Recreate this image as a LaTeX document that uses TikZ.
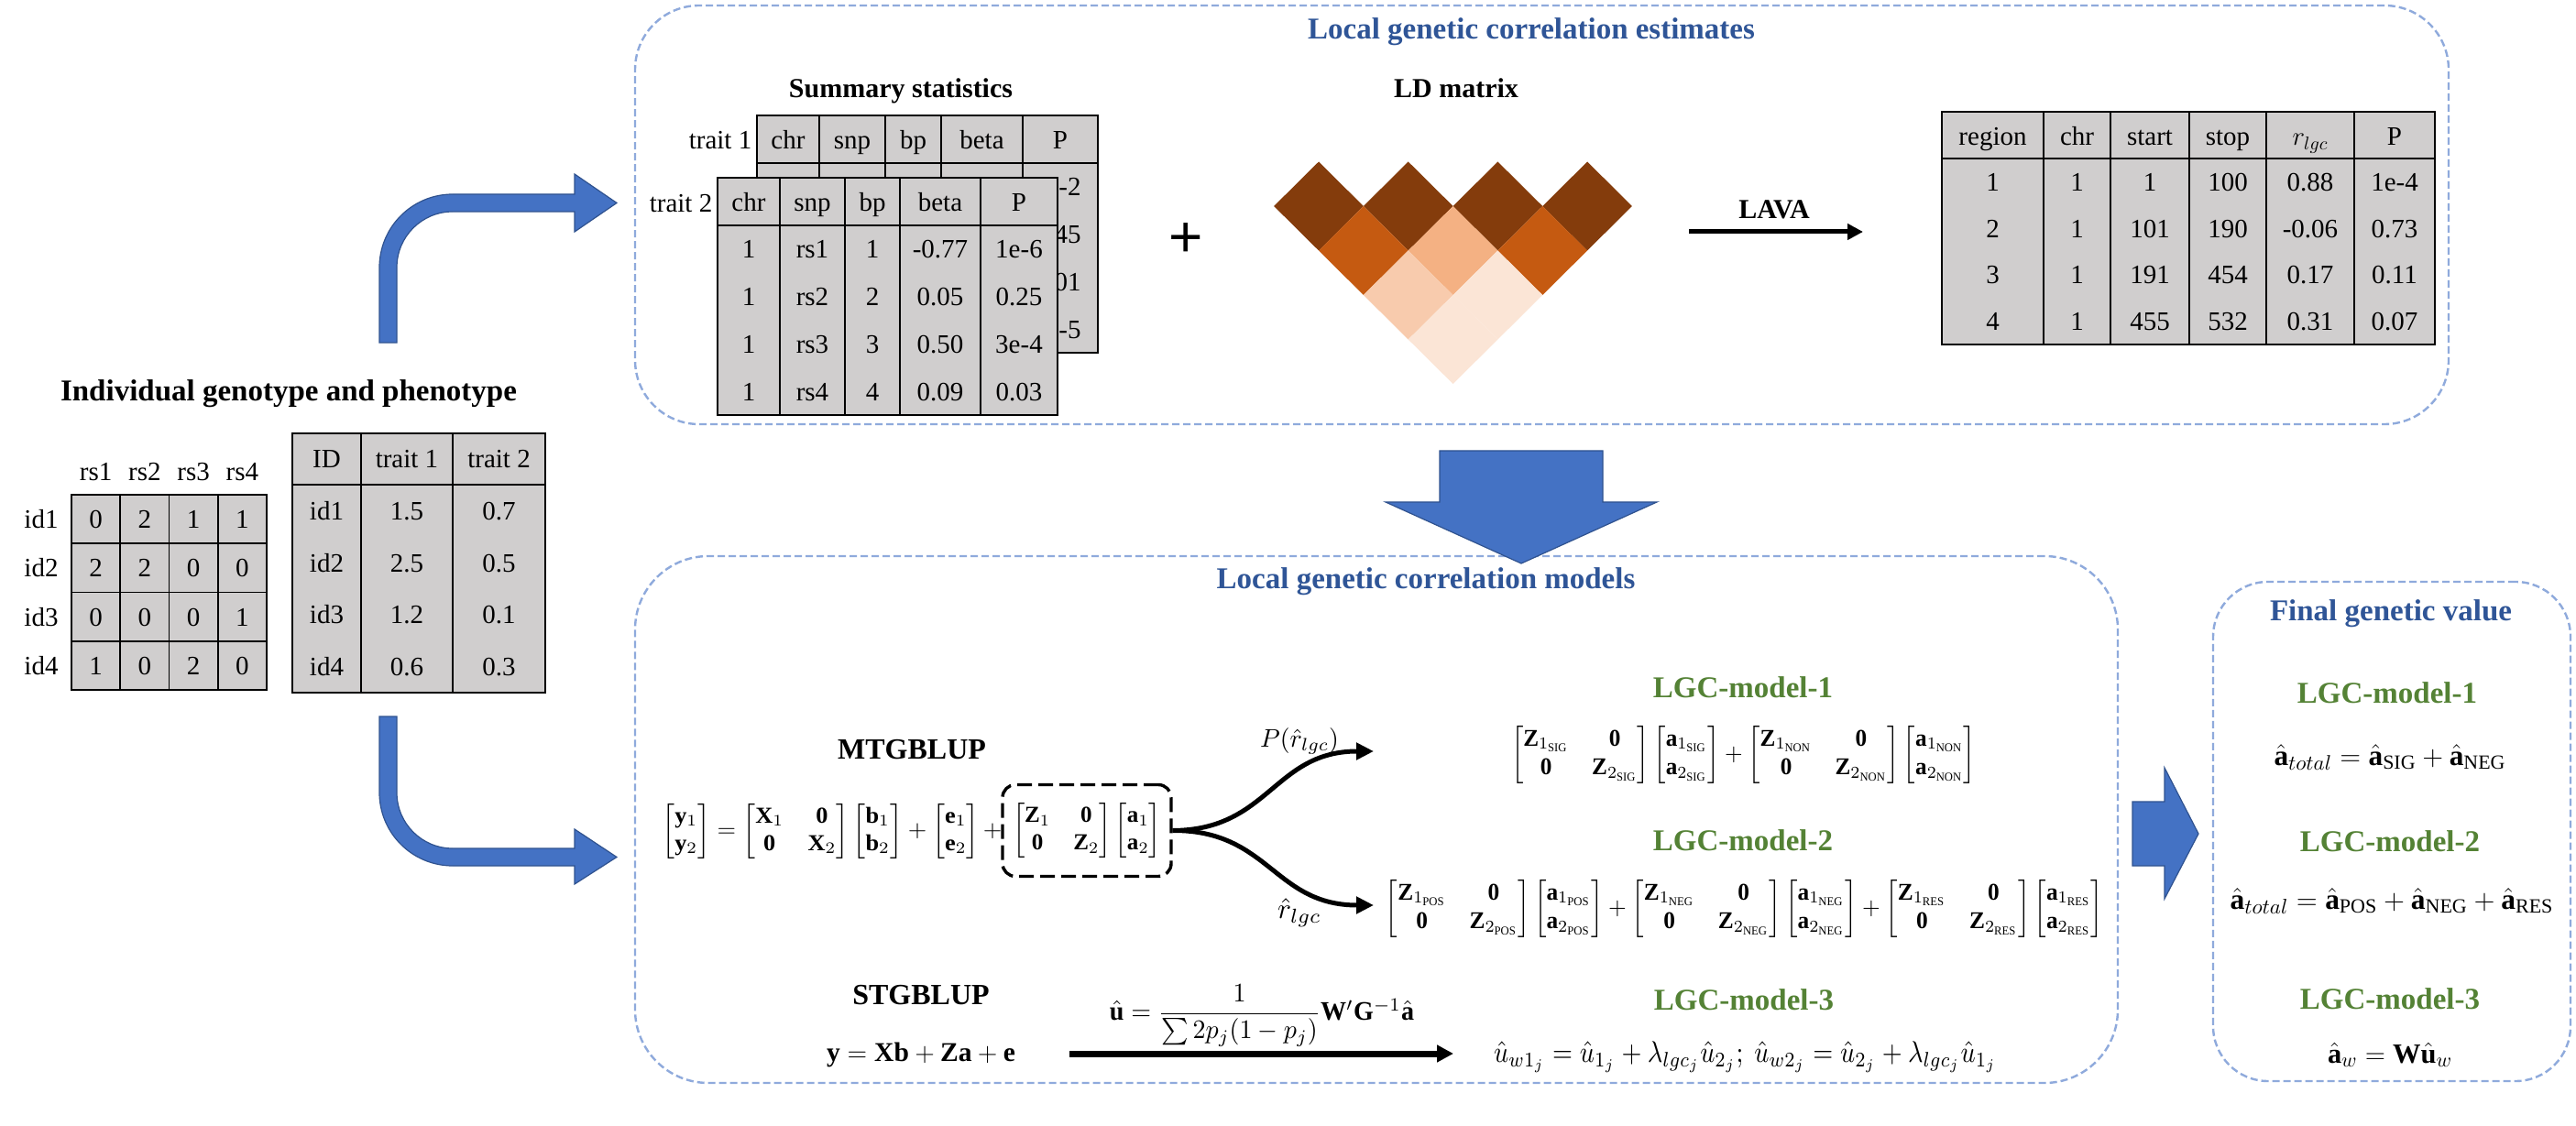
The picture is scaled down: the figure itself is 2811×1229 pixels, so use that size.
\documentclass[tikz,border=0pt]{standalone}
\usepackage{amsmath}
\usepackage{graphicx}
\usepackage{fontspec}
\setmainfont{Liberation Serif}
\newfontfamily\plusfont{Liberation Sans}
\usetikzlibrary{arrows.meta}
\definecolor{boxblue}{HTML}{8FAADC}
\definecolor{titleblue}{HTML}{2F5597}
\definecolor{arrowblue}{HTML}{4472C4}
\definecolor{arrowedge}{HTML}{2F528F}
\definecolor{cellgray}{HTML}{D0CECE}
\definecolor{lgcgreen}{HTML}{548235}
\definecolor{ldA}{HTML}{843C0C}
\definecolor{ldB}{HTML}{C55A11}
\definecolor{ldC}{HTML}{F4B183}
\definecolor{ldD}{HTML}{F8CBAD}
\definecolor{ldE}{HTML}{FBE5D6}
\newcommand\Bf[1]{\mathbf{#1}}
\newcommand\zablock[1]{\begin{bmatrix}\Bf{Z}_{1_{\mathrm{#1}}} & \Bf{0}\\ \Bf{0} & \Bf{Z}_{2_{\mathrm{#1}}}\end{bmatrix}\begin{bmatrix}\Bf{a}_{1_{\mathrm{#1}}}\\ \Bf{a}_{2_{\mathrm{#1}}}\end{bmatrix}}
\begin{document}
\begin{tikzpicture}[x=0.5pt,y=-0.5pt,
  dbox/.style={draw=boxblue, line width=1.2pt, dash pattern=on 4pt off 2pt, inner sep=0pt},
  ttl/.style={font=\fontsize{16.5}{20}\selectfont\bfseries, text=titleblue, anchor=base, inner sep=0pt},
  lgct/.style={font=\fontsize{16.5}{20}\selectfont\bfseries, text=lgcgreen, anchor=base, inner sep=0pt},
  subt/.style={font=\fontsize{15}{18}\selectfont\bfseries, anchor=base, inner sep=0pt},
  cell/.style={font=\fontsize{14.5}{17}\selectfont, inner sep=0pt, text height=10pt, text depth=0pt},
  tline/.style={line width=0.6pt},
  tout/.style={line width=1pt},
  barrow/.style={fill=arrowblue, draw=arrowedge, line width=0.6pt},
  fml/.style={inner sep=0pt},
  branch/.style={line width=2.5pt, -{Triangle[length=9.5pt,width=9pt]}},
  straight/.style={line width=2.5pt, -{Triangle[length=8.5pt,width=8.5pt]}},
]
\useasboundingbox (0,0) rectangle (2811,1229);
\fill[white] (0,0) rectangle (2811,1229);

% ---------- dashed containers ----------
\node[dbox, rounded corners=35pt, minimum width=989.5pt, minimum height=228.5pt] (estbox) at (1682.5,234.5) {};
\node[dbox, rounded corners=40pt, minimum width=809pt, minimum height=287.5pt] (modbox) at (1502,894.5) {};
\node[dbox, rounded corners=30pt, minimum width=195pt, minimum height=272.5pt] (finbox) at (2610,907.5) {};

\node[ttl] (t1) at (1671,43) {Local genetic correlation estimates};
\node[ttl] (t2) at (1556,642) {Local genetic correlation models};
\node[ttl] (t3) at (2609,677) {Final genetic value};

% ---------- left: individual data ----------
\node[ttl, text=black] (t0) at (315,438) {Individual genotype and phenotype};

\foreach \lab [count=\c] in {rs1,rs2,rs3,rs4}
  \node[cell] (rs-\c) at ({78+53.25*(\c-0.5)},515) {\lab};
\foreach \lab [count=\r] in {id1,id2,id3,id4}
  \node[cell] (id-\r) at (45,{540+53.25*(\r-0.5)}) {\lab};
\fill[cellgray] (78,540) rectangle (291,753);
\foreach \i in {1,2,3} {
  \draw[line width=0.9pt] ({78+53.25*\i},540) -- ({78+53.25*\i},753);
  \draw[line width=0.9pt] (78,{540+53.25*\i}) -- (291,{540+53.25*\i});
}
\draw[line width=1.1pt] (78,540) rectangle (291,753);
\foreach \row [count=\r] in {{0,2,1,1},{2,2,0,0},{0,0,0,1},{1,0,2,0}} {
  \foreach \v [count=\c] in \row {
    \node[cell] (geno-\r-\c) at ({78+53.25*(\c-0.5)},{540+53.25*(\r-0.5)}) {\v};
  }
}

\fill[cellgray] (319,473) rectangle (595,756);
\draw[tline] (394,473) -- (394,756);
\draw[tline] (494,473) -- (494,756);
\draw[tout] (319,529) -- (595,529);
\draw[tout] (319,473) rectangle (595,756);
\node[cell] (ph-h1) at (356.5,501) {ID};
\node[cell] (ph-h2) at (444,501) {trait 1};
\node[cell] (ph-h3) at (544.5,501) {trait 2};
\foreach \va/\vb/\vc [count=\r] in {id1/1.5/0.7, id2/2.5/0.5, id3/1.2/0.1, id4/0.6/0.3} {
  \node[cell] (ph-\r-1) at (356.5,{529+56.75*(\r-0.5)}) {\va};
  \node[cell] (ph-\r-2) at (444,{529+56.75*(\r-0.5)}) {\vb};
  \node[cell] (ph-\r-3) at (544.5,{529+56.75*(\r-0.5)}) {\vc};
}

% ---------- blue bent arrows ----------
\fill[barrow] (414,374) -- (414,292) .. controls (414,247.8) and (449.8,212) .. (494,212)
  -- (627,212) -- (627,190) -- (673,221.5) -- (627,253) -- (627,231) -- (494,231)
  .. controls (460.3,231) and (433,258.3) .. (433,292) -- (433,374) -- cycle;
\fill[barrow] (414,782) -- (414,865) .. controls (414,909.2) and (449.8,945) .. (494,945)
  -- (627,945) -- (627,965) -- (673,935.5) -- (627,905) -- (627,926) -- (494,926)
  .. controls (460.3,926) and (433,898.7) .. (433,865) -- (433,782) -- cycle;

% ---------- summary statistics ----------
\node[subt] (tss) at (983,107) {Summary statistics};
\node[cell] (tr1) at (786,153) {trait 1};
\node[cell] (tr2) at (743,222) {trait 2};
% back table (trait 1)
\fill[cellgray] (826,126) rectangle (1198,385);
\foreach \xx in {894,966,1027,1116} \draw[tline] (\xx,126) -- (\xx,385);
\draw[tout] (826,178) -- (1198,178);
\draw[tout] (826,126) rectangle (1198,385);
\foreach \lab/\xx [count=\c] in {chr/860,snp/930,bp/996.5,beta/1071.5,P/1157}
  \node[cell] (b-h\c) at (\xx,153) {\lab};
\foreach \lab [count=\r] in {-2,45,01,-5}
  \node[cell, anchor=east] (b-p\r) at (1180,{178+51.75*(\r-0.5)}) {\lab};
% front table (trait 2)
\fill[cellgray] (783,194) rectangle (1154,453);
\foreach \xx in {851,922,982,1070} \draw[tline] (\xx,194) -- (\xx,453);
\draw[tout] (783,246) -- (1154,246);
\draw[tout] (783,194) rectangle (1154,453);
\foreach \lab/\xx [count=\c] in {chr/817,snp/886.5,bp/952,beta/1026,P/1112}
  \node[cell] (f-h\c) at (\xx,221) {\lab};
\foreach \va/\vb/\vc/\vd/\ve [count=\r] in {1/rs1/1/-0.77/1e-6, 1/rs2/2/0.05/0.25, 1/rs3/3/0.50/3e-4, 1/rs4/4/0.09/0.03} {
  \node[cell] (f-\r-1) at (817,{246+51.75*(\r-0.5)}) {\va};
  \node[cell] (f-\r-2) at (886.5,{246+51.75*(\r-0.5)}) {\vb};
  \node[cell] (f-\r-3) at (952,{246+51.75*(\r-0.5)}) {\vc};
  \node[cell] (f-\r-4) at (1026,{246+51.75*(\r-0.5)}) {\vd};
  \node[cell] (f-\r-5) at (1112,{246+51.75*(\r-0.5)}) {\ve};
}

\node[font=\plusfont\fontsize{32}{32}\selectfont, inner sep=0pt] (plus) at (1294,262) {+};

% ---------- LD matrix ----------
\node[subt] (tld) at (1589,107) {LD matrix};
\foreach \cx/\cy/\col [count=\k] in {1439/225/ldA, 1536.7/225/ldA, 1634.4/225/ldA, 1732.1/225/ldA,
    1487.85/273.5/ldB, 1585.55/273.5/ldC, 1683.25/273.5/ldB,
    1536.7/322/ldD, 1634.4/322/ldE, 1585.55/370.5/ldE}
  \fill[\col] ({\cx},{\cy-48.5}) -- ({\cx+48.85},{\cy}) -- ({\cx},{\cy+48.5}) -- ({\cx-48.85},{\cy}) -- cycle;

% ---------- LAVA ----------
\node[subt] (tlava) at (1936,239) {LAVA};
\coordinate (lavaS) at (1843,253);
\coordinate (lavaE) at (2033,253);
\draw[straight] (lavaS) -- (lavaE);

\fill[cellgray] (2119,122) rectangle (2657,376);
\foreach \xx in {2230,2303,2389,2473,2569} \draw[tline] (\xx,122) -- (\xx,376);
\draw[tout] (2119,173) -- (2657,173);
\draw[tout] (2119,122) rectangle (2657,376);
\node[cell] (r-h1) at (2174.5,149) {region};
\node[cell] (r-h2) at (2266.5,149) {chr};
\node[cell] (r-h3) at (2346,149) {start};
\node[cell] (r-h4) at (2431,149) {stop};
\node[cell] (r-h5) at (2521,149) {$r_{lgc}$};
\node[cell] (r-h6) at (2613,149) {P};
\foreach \va/\vb/\vc/\vd/\ve/\vf [count=\r] in {1/1/1/100/0.88/1e-4, 2/1/101/190/-0.06/0.73, 3/1/191/454/0.17/0.11, 4/1/455/532/0.31/0.07} {
  \node[cell] (r-\r-1) at (2174.5,{173+50.75*(\r-0.5)}) {\va};
  \node[cell] (r-\r-2) at (2266.5,{173+50.75*(\r-0.5)}) {\vb};
  \node[cell] (r-\r-3) at (2346,{173+50.75*(\r-0.5)}) {\vc};
  \node[cell] (r-\r-4) at (2431,{173+50.75*(\r-0.5)}) {\vd};
  \node[cell] (r-\r-5) at (2521,{173+50.75*(\r-0.5)}) {\ve};
  \node[cell] (r-\r-6) at (2613,{173+50.75*(\r-0.5)}) {\vf};
}

% ---------- block arrows ----------
\fill[barrow] (1571,492) -- (1749,492) -- (1749,548) -- (1808,548) -- (1660,615) -- (1512,548) -- (1571,548) -- cycle;
\fill[barrow] (2327,875) -- (2362,875) -- (2362,838) -- (2399,910) -- (2362,981) -- (2362,945) -- (2327,945) -- cycle;

% ---------- models ----------
\node[subt, font=\fontsize{16}{19}\selectfont\bfseries] (tmtg) at (995,828) {MTGBLUP};
\node[fml, anchor=west] (mtgL) at (722,907) {\resizebox*{185.5pt}{30pt}{$\begin{bmatrix}\Bf{y}_1\\ \Bf{y}_2\end{bmatrix}=\begin{bmatrix}\Bf{X}_1 & \Bf{0}\\ \Bf{0} & \Bf{X}_2\end{bmatrix}\begin{bmatrix}\Bf{b}_1\\ \Bf{b}_2\end{bmatrix}+\begin{bmatrix}\Bf{e}_1\\ \Bf{e}_2\end{bmatrix}+$}};
\node[draw, line width=1.7pt, dash pattern=on 8pt off 3.5pt, rounded corners=7pt, inner xsep=5.5pt, inner ysep=10pt] (mtgZ) at (1186,906.5) {\resizebox*{81pt}{30pt}{$\begin{bmatrix}\Bf{Z}_1 & \Bf{0}\\ \Bf{0} & \Bf{Z}_2\end{bmatrix}\begin{bmatrix}\Bf{a}_1\\ \Bf{a}_2\end{bmatrix}$}};
\coordinate (m1tip) at (1499,820);
\coordinate (m2tip) at (1499,988);
\draw[branch] (mtgZ.east) .. controls (1385,906) and (1390,820) .. (m1tip);
\draw[branch] (mtgZ.east) .. controls (1385,906) and (1390,988) .. (m2tip);
\node[fml] (plab) at (1418,809) {\resizebox{43pt}{!}{$P(\hat{r}_{lgc})$}};
\node[fml] (rlab) at (1418,996) {\resizebox{24pt}{!}{$\hat{r}_{lgc}$}};

\node[lgct] (g1) at (1902,761) {LGC-model-1};
\node[fml] (m1f) at (1902.5,823.5) {\resizebox*{253.5pt}{31.5pt}{$\zablock{SIG}+\zablock{NON}$}};
\node[lgct] (g2) at (1902,928) {LGC-model-2};
\node[fml] (m2f) at (1903.5,991.5) {\resizebox*{391.5pt}{31.5pt}{$\zablock{POS}+\zablock{NEG}+\zablock{RES}$}};

\node[subt, font=\fontsize{16}{19}\selectfont\bfseries] (tstg) at (1005,1096) {STGBLUP};
\node[fml, anchor=base] (stgeq) at (1005,1158) {\resizebox{103pt}{!}{\fontsize{12.5}{15}\selectfont$\Bf{y}=\Bf{Xb}+\Bf{Za}+\Bf{e}$}};
\node[fml] (uf) at (1377,1108.5) {\resizebox*{166pt}{33.5pt}{$\hat{\Bf{u}}=\dfrac{1}{\sum 2p_j(1-p_j)}\Bf{W}'\Bf{G}^{-1}\hat{\Bf{a}}$}};
\coordinate (s3a) at (1167,1150);
\coordinate (s3b) at (1586,1150);
\draw[line width=3.5pt, -{Triangle[length=9pt,width=9pt]}] (s3a) -- (s3b);
\node[lgct] (g3) at (1903,1102) {LGC-model-3};
\node[fml] (m3f) at (1904.5,1154) {\resizebox*{274.5pt}{17pt}{$\hat{u}_{w1_j}=\hat{u}_{1_j}+\lambda_{lgc_j}\hat{u}_{2_j};\ \hat{u}_{w2_j}=\hat{u}_{2_j}+\lambda_{lgc_j}\hat{u}_{1_j}$}};

% ---------- final genetic value ----------
\node[lgct] (fg1) at (2605,767) {LGC-model-1};
\node[fml, anchor=base] (ff1) at (2608,835) {\resizebox{126.5pt}{!}{\fontsize{15}{18}\selectfont$\hat{\Bf{a}}_{total}=\hat{\Bf{a}}_{\mathrm{SIG}}+\hat{\Bf{a}}_{\mathrm{NEG}}$}};
\node[lgct] (fg2) at (2608,929) {LGC-model-2};
\node[fml, anchor=base] (ff2) at (2610,992) {\resizebox{176.5pt}{!}{\fontsize{15}{18}\selectfont$\hat{\Bf{a}}_{total}=\hat{\Bf{a}}_{\mathrm{POS}}+\hat{\Bf{a}}_{\mathrm{NEG}}+\hat{\Bf{a}}_{\mathrm{RES}}$}};
\node[lgct] (fg3) at (2608,1101) {LGC-model-3};
\node[fml, anchor=base] (ff3) at (2608,1160) {\resizebox{68pt}{!}{\fontsize{15}{18}\selectfont$\hat{\Bf{a}}_{w}=\Bf{W}\hat{\Bf{u}}_{w}$}};
\end{tikzpicture}
\end{document}
